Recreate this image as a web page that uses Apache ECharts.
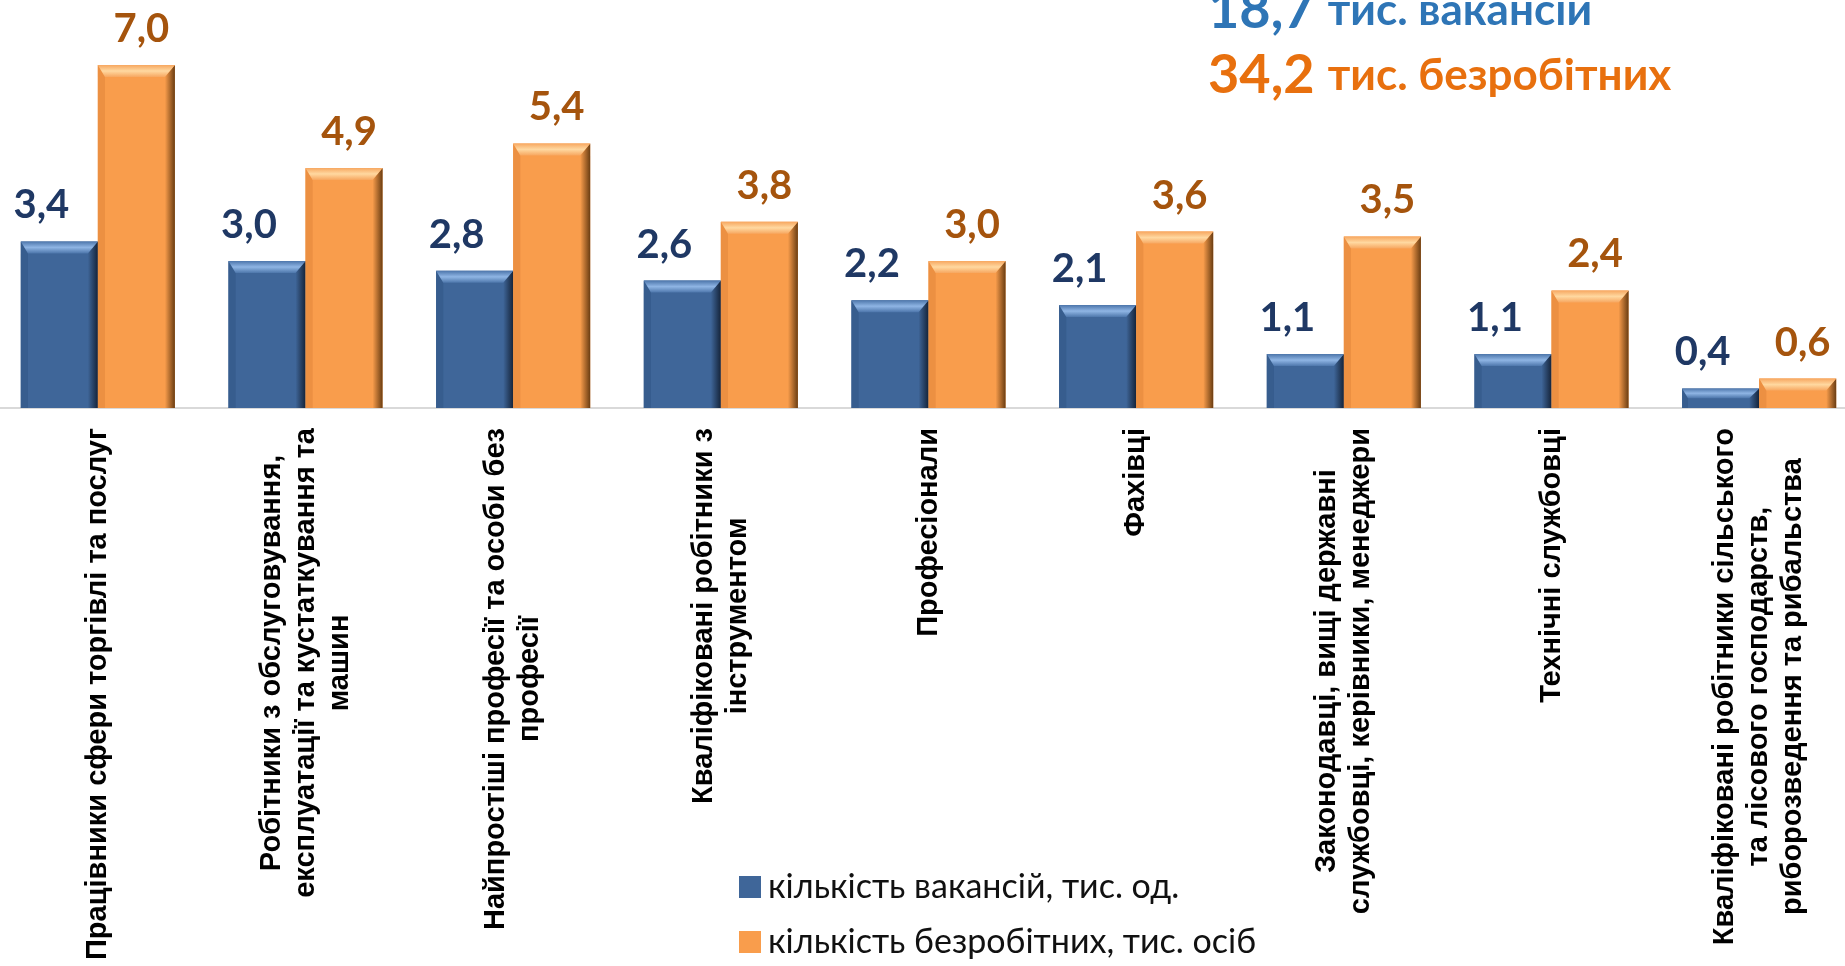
<!DOCTYPE html>
<html>
<head>
<meta charset="utf-8">
<script src="https://cdn.jsdelivr.net/npm/echarts@6/dist/echarts.min.js"></script>
<style>
html,body{margin:0;padding:0;background:#fff;}
#chart{width:1845px;height:966px;}
</style>
</head>
<body>
<div id="chart"></div>
<script>
// ---- data ----
const categories = [
  'Працівники сфери торгівлі та послуг',
  'Робітники з обслуговування,\nексплуатації та кустаткування та\nмашин',
  'Найпростіші професії та особи без\nпрофесії',
  'Кваліфіковані робітники з\nінструментом',
  'Професіонали',
  'Фахівці',
  'Законодавці, вищі державні\nслужбовці, керівники, менеджери',
  'Технічні службовці',
  'Кваліфіковані робітники сільського\nта лісового господарств,\nриборозведення та рибальства'
];
const vacancies = [3.4, 3.0, 2.8, 2.6, 2.2, 2.1, 1.1, 1.1, 0.4];
const unemployed = [7.0, 4.9, 5.4, 3.8, 3.0, 3.6, 3.5, 2.4, 0.6];
const seriesNames = ['кількість вакансій, тис. од.', 'кількість безробітних, тис. осіб'];
const totalVacancies = '18,7';
const totalUnemployed = '34,2';

// ---- styles ----
const BAR_FRAC = 0.371;
const BLUE = {main: '#3F6699', top1: '#4D76AB', top2: '#8FB5E4', left: '#375D8E', dark: '#15243A', label: '#1F3864'};
const ORANGE = {main: '#F99D4C', top1: '#F7A760', top2: '#FFD8A0', left: '#EC9042', dark: '#6A3D12', label: '#A5540D'};
const fmt = v => v.toFixed(1).replace('.', ',');

function bevel(side, c) {
  return function (params, api) {
    const i = api.value(0), v = api.value(1);
    const base = api.coord([i, 0]);
    const top = api.coord([i, v]);
    const band = api.size([1, 0])[0];
    const bw = band * BAR_FRAC;
    const x0 = side < 0 ? base[0] - bw : base[0];
    const x1 = x0 + bw;
    const y0 = top[1], yb = base[1];
    const b = Math.min(12, (yb - y0) / 2);
    const r = 10;
    return {
      type: 'group',
      children: [
        {type: 'polygon', shape: {points: [[x0, y0], [x0 + b * 0.6, y0 + b], [x0 + b * 0.6, yb], [x0, yb]]},
          style: {fill: c.left}},
        {type: 'polygon', shape: {points: [[x1, y0], [x1, yb], [x1 - r, yb], [x1 - r, y0 + b]]},
          style: {fill: new echarts.graphic.LinearGradient(0, 0, 1, 0, [
            {offset: 0, color: c.main}, {offset: 1, color: c.dark}])}},
        {type: 'polygon', shape: {points: [[x0, y0], [x1, y0], [x1 - r, y0 + b], [x0 + b * 0.6, y0 + b]]},
          style: {fill: new echarts.graphic.LinearGradient(0, 0, 0, 1, [
            {offset: 0, color: c.top1}, {offset: 0.5, color: c.top2}, {offset: 1, color: c.top1}])}}
      ]
    };
  };
}

const labelTxt = v => v.split('\n').map(l => '{c|' + l + '}').join('\n');

const chart = echarts.init(document.getElementById('chart'), null, {renderer: 'canvas'});
chart.setOption({
  animation: false,
  backgroundColor: '#ffffff',
  title: {
    left: 1208, top: -22, padding: 0,
    text: '{bn|' + totalVacancies + ' }{bt|тис. вакансій}\n{on|' + totalUnemployed + ' }{ot|тис. безробітних}',
    textStyle: {
      rich: {
        bn: {fontFamily: 'Lato', fontWeight: 'bold', fontSize: 54, color: '#2E75B6', lineHeight: 65},
        bt: {fontFamily: 'Lato', fontWeight: 'bold', fontSize: 44, color: '#2E75B6', lineHeight: 65},
        on: {fontFamily: 'Lato', fontWeight: 'bold', fontSize: 54, color: '#E8700E', lineHeight: 65},
        ot: {fontFamily: 'Lato', fontWeight: 'bold', fontSize: 44, color: '#E8700E', lineHeight: 65}
      }
    }
  },
  legend: {
    data: seriesNames,
    orient: 'vertical',
    left: 734, top: 865,
    itemWidth: 22, itemHeight: 22, itemGap: 21,
    icon: 'rect',
    textStyle: {fontFamily: 'Lato', fontSize: 34, color: '#111', padding: [0, 0, 0, 2]}
  },
  grid: {left: -6, width: 1869, top: 65, bottom: 558, containLabel: false, outerBoundsMode: 'none'},
  xAxis: {
    type: 'category',
    data: categories,
    axisLine: {show: true, lineStyle: {color: '#D9D9D9', width: 2}},
    axisTick: {show: false},
    axisLabel: {
      interval: 0, rotate: 90, margin: 20,
      formatter: labelTxt,
      rich: {c: {align: 'center', fontFamily: 'Liberation Sans', fontWeight: 'bold', fontSize: 29, lineHeight: 34, color: '#000'}}
    }
  },
  yAxis: {type: 'value', min: 0, max: 7, show: false, splitLine: {show: false}},
  series: [
    {
      name: seriesNames[0], type: 'bar', data: vacancies,
      barWidth: (BAR_FRAC * 100) + '%', barGap: '0%',
      itemStyle: {color: BLUE.main},
      label: {show: true, position: 'top', distance: 16, offset: [-18, 0], formatter: p => fmt(p.value),
        fontFamily: 'Lato', fontWeight: 'bold', fontSize: 40, color: BLUE.label}
    },
    {
      name: seriesNames[1], type: 'bar', data: unemployed,
      barWidth: (BAR_FRAC * 100) + '%', barGap: '0%',
      itemStyle: {color: ORANGE.main},
      label: {show: true, position: 'top', distance: 16, offset: [5, 0], formatter: p => fmt(p.value),
        fontFamily: 'Lato', fontWeight: 'bold', fontSize: 40, color: ORANGE.label}
    },
    {
      type: 'custom', silent: true, z: 3,
      data: vacancies.map((v, i) => [i, v]),
      encode: {x: 0, y: 1},
      renderItem: bevel(-1, BLUE)
    },
    {
      type: 'custom', silent: true, z: 3,
      data: unemployed.map((v, i) => [i, v]),
      encode: {x: 0, y: 1},
      renderItem: bevel(1, ORANGE)
    }
  ]
});
</script>
</body>
</html>
